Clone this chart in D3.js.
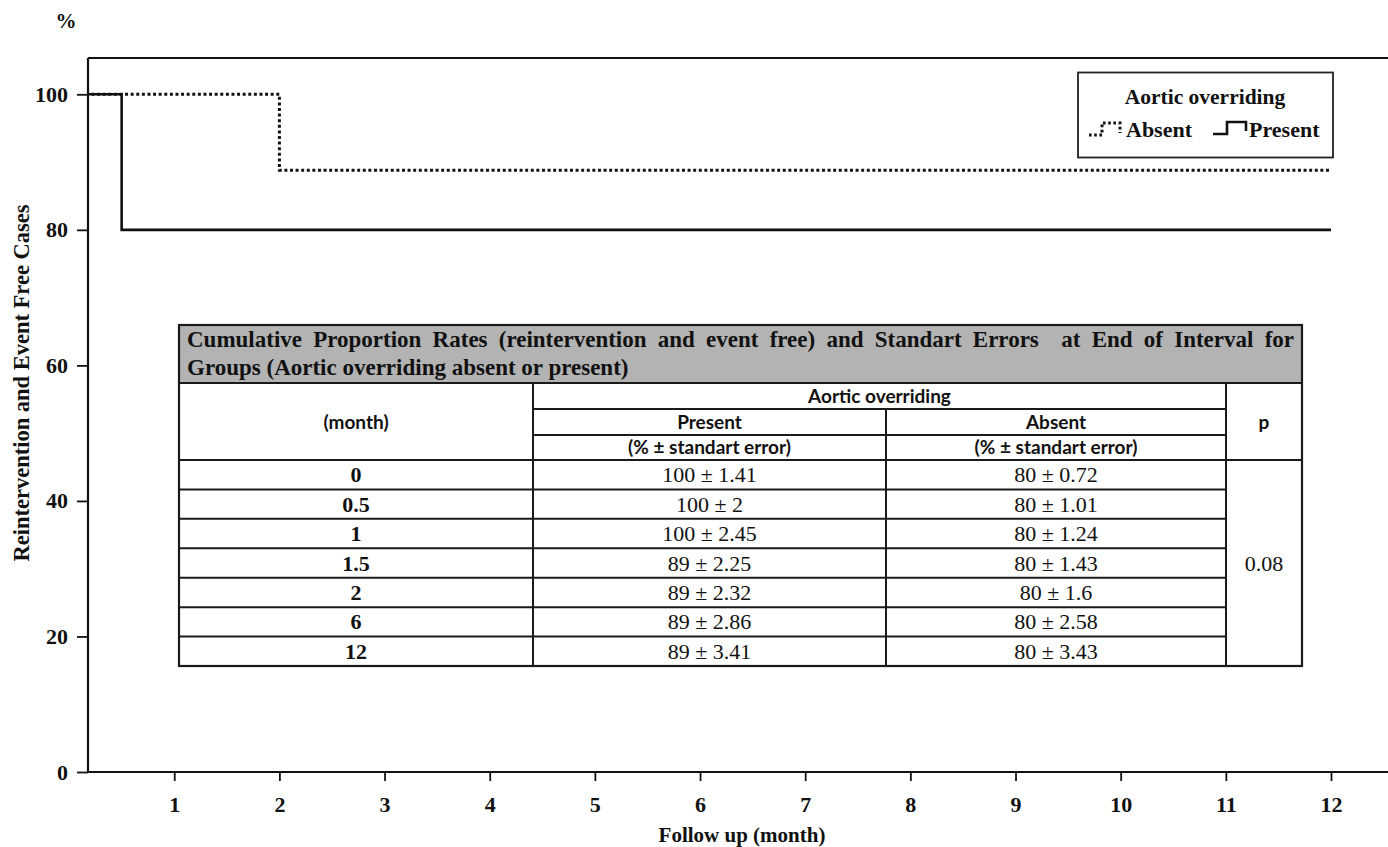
<!DOCTYPE html>
<html>
<head>
<meta charset="utf-8">
<script src="https://cdn.jsdelivr.net/npm/d3@7"></script>
<style>
  html, body { margin: 0; padding: 0; background: #fff; }
  svg { display: block; }
</style>
</head>
<body>
<svg id="chart" width="1388" height="847"></svg>
<script>
// ---------------- DATA ----------------
const xTicks = [1, 2, 3, 4, 5, 6, 7, 8, 9, 10, 11, 12];
const yTicks = [0, 20, 40, 60, 80, 100];
const absentTimes = [0, 2, 12];
const absentSurv = [100, 88.8, 88.8];
const presentTimes = [0, 0.5, 12];
const presentSurv = [100, 80, 80];

const tableTitle1 = "Cumulative Proportion Rates (reintervention and event free) and Standart Errors  at End of Interval for";
const tableTitle2 = "Groups (Aortic overriding absent or present)";
const tableMonths = ["0", "0.5", "1", "1.5", "2", "6", "12"];
const presentRate = [100, 100, 100, 89, 89, 89, 89];
const presentSE = ["1.41", "2", "2.45", "2.25", "2.32", "2.86", "3.41"];
const absentRate = [80, 80, 80, 80, 80, 80, 80];
const absentSE = ["0.72", "1.01", "1.24", "1.43", "1.6", "2.58", "3.43"];
const pValue = "0.08";

(function () {
// ---------------- LAYOUT ----------------
const svg = d3.select("#chart");
const serif = "'Liberation Serif', 'Times New Roman', serif";
const sans = "Lato, 'Open Sans', sans-serif";
const ink = "#111";

const pL = 88, pR = 1388, pT = 58, pB = 772;
const x = d3.scaleLinear().domain([0.18, 12]).range([88, 1331]);
const y = d3.scaleLinear().domain([0, 100]).range([772, 94.3]);

svg.append("defs").append("clipPath").attr("id", "plotclip")
  .append("rect").attr("x", pL).attr("y", pT).attr("width", pR - pL).attr("height", pB - pT);

// frame top line
svg.append("line").attr("x1", pL).attr("x2", pR).attr("y1", pT).attr("y2", pT)
  .attr("stroke", ink).attr("stroke-width", 2);

// x axis
const xAxis = svg.append("g").attr("transform", `translate(0,${pB})`)
  .call(d3.axisBottom(x).tickValues(xTicks).tickSize(9).tickPadding(15).tickFormat(d3.format("d")));
xAxis.select(".domain").remove();
xAxis.append("line").attr("x1", pL).attr("x2", pR).attr("y1", 0).attr("y2", 0)
  .attr("stroke", ink).attr("stroke-width", 2.2);
xAxis.selectAll(".tick line").attr("stroke", ink).attr("stroke-width", 1.8);
xAxis.selectAll(".tick text").attr("fill", ink).attr("font-family", serif)
  .attr("font-weight", "bold").attr("font-size", 22);

// y axis
const yAxis = svg.append("g").attr("transform", `translate(${pL},0)`)
  .call(d3.axisLeft(y).tickValues(yTicks).tickSize(11).tickPadding(9).tickFormat(d3.format("d")));
yAxis.select(".domain").remove();
yAxis.append("line").attr("x1", 0).attr("x2", 0).attr("y1", pT).attr("y2", pB)
  .attr("stroke", ink).attr("stroke-width", 2.2);
yAxis.selectAll(".tick line").attr("stroke", ink).attr("stroke-width", 1.8);
yAxis.selectAll(".tick text").attr("fill", ink).attr("font-family", serif)
  .attr("font-weight", "bold").attr("font-size", 22);

// axis titles
svg.append("text").attr("x", 66).attr("y", 28).attr("text-anchor", "middle")
  .attr("font-family", serif).attr("font-weight", "bold").attr("font-size", 21).attr("fill", ink).text("%");
svg.append("text").attr("transform", `translate(29,383) rotate(-90)`).attr("text-anchor", "middle")
  .attr("font-family", serif).attr("font-weight", "bold").attr("font-size", 22.5).attr("fill", ink)
  .text("Reintervention and Event Free Cases");
svg.append("text").attr("x", 742).attr("y", 842).attr("text-anchor", "middle")
  .attr("font-family", serif).attr("font-weight", "bold").attr("font-size", 21).attr("fill", ink)
  .text("Follow up (month)");

// curves
const line = d3.line().curve(d3.curveStepAfter).x(d => x(d[0])).y(d => y(d[1]));
const plot = svg.append("g").attr("clip-path", "url(#plotclip)");
plot.append("path").datum(d3.zip(absentTimes, absentSurv)).attr("d", line)
  .attr("fill", "none").attr("stroke", ink).attr("stroke-width", 3).attr("stroke-dasharray", "3,2.6");
plot.append("path").datum(d3.zip(presentTimes, presentSurv)).attr("d", line)
  .attr("fill", "none").attr("stroke", ink).attr("stroke-width", 2.6);

// legend
const lg = svg.append("g");
lg.append("rect").attr("x", 1078).attr("y", 72.5).attr("width", 255).attr("height", 85)
  .attr("fill", "#fff").attr("stroke", "#222").attr("stroke-width", 1.8);
lg.append("text").attr("x", 1205).attr("y", 104).attr("text-anchor", "middle")
  .attr("font-family", serif).attr("font-weight", "bold").attr("font-size", 21.5).attr("fill", ink)
  .text("Aortic overriding");
lg.append("path").attr("d", "M1089,135 H1102 V123 H1120 V133")
  .attr("fill", "none").attr("stroke", ink).attr("stroke-width", 3).attr("stroke-dasharray", "2.6,2.6");
lg.append("text").attr("x", 1126).attr("y", 137).attr("font-family", serif).attr("font-weight", "bold")
  .attr("font-size", 22).attr("fill", ink).text("Absent");
lg.append("path").attr("d", "M1213,134 H1227 V122 H1246 V131")
  .attr("fill", "none").attr("stroke", ink).attr("stroke-width", 2.6);
lg.append("text").attr("x", 1249).attr("y", 137).attr("font-family", serif).attr("font-weight", "bold")
  .attr("font-size", 22).attr("fill", ink).text("Present");

// ---------------- TABLE ----------------
const tb = svg.append("g");
const tx0 = 179, tx1 = 1302;
const colX = [179, 533, 886, 1226, 1302];
const hdrTop = 325, hdrBot = 383;
const dataTop = 460, dataBot = 666;
const dataRowY = d3.range(tableMonths.length + 1).map(i => dataTop + i * (dataBot - dataTop) / tableMonths.length);

tb.append("rect").attr("x", tx0).attr("y", hdrTop).attr("width", tx1 - tx0).attr("height", hdrBot - hdrTop)
  .attr("fill", "#b3b3b3");
tb.append("rect").attr("x", tx0).attr("y", hdrBot).attr("width", tx1 - tx0).attr("height", dataBot - hdrBot)
  .attr("fill", "#fff");

// title line 1 (justified by words)
const words = tableTitle1.split(" ");
const wEls = words.map(w => tb.append("text").attr("y", 347).attr("font-family", serif)
  .attr("font-weight", "bold").attr("font-size", 23).attr("fill", ink).text(w));
const widths = wEls.map(e => e.node().getComputedTextLength());
const totalW = d3.sum(widths);
const startX = 187, endX = 1294;
const gap = (endX - startX - totalW) / (words.length - 1);
let cx = startX;
wEls.forEach((e, i) => { e.attr("x", cx); cx += widths[i] + gap; });
tb.append("text").attr("x", startX).attr("y", 375).attr("font-family", serif).attr("font-weight", "bold")
  .attr("font-size", 23).attr("fill", ink).text(tableTitle2);

const stroke = (x1, y1, x2, y2, w) => tb.append("line").attr("x1", x1).attr("y1", y1).attr("x2", x2).attr("y2", y2)
  .attr("stroke", "#1a1a1a").attr("stroke-width", w || 2);

// outer border
tb.append("rect").attr("x", tx0).attr("y", hdrTop).attr("width", tx1 - tx0).attr("height", dataBot - hdrTop)
  .attr("fill", "none").attr("stroke", "#1a1a1a").attr("stroke-width", 2.2);
stroke(tx0, hdrBot, tx1, hdrBot, 2.2);
stroke(colX[1], 409, colX[3], 409);
stroke(colX[1], 435, colX[3], 435);
stroke(tx0, 460, tx1, 460);
stroke(colX[1], hdrBot, colX[1], dataBot);
stroke(colX[2], 409, colX[2], dataBot);
stroke(colX[3], hdrBot, colX[3], dataBot);
dataRowY.slice(1, -1).forEach(yy => stroke(tx0, yy, colX[3], yy));

const hdrText = (xx, yy, t) => tb.append("text").attr("x", xx).attr("y", yy).attr("text-anchor", "middle")
  .attr("font-family", sans).attr("font-weight", "bold").attr("font-size", 19).attr("fill", ink).text(t);
hdrText((colX[0] + colX[1]) / 2, 429, "(month)");
hdrText((colX[1] + colX[3]) / 2, 403, "Aortic overriding");
hdrText((colX[1] + colX[2]) / 2, 429, "Present");
hdrText((colX[2] + colX[3]) / 2, 429, "Absent");
hdrText((colX[1] + colX[2]) / 2, 454, "(% ± standart error)");
hdrText((colX[2] + colX[3]) / 2, 454, "(% ± standart error)");
hdrText((colX[3] + colX[4]) / 2, 429, "p");

tableMonths.forEach((m, i) => {
  const yy = (dataRowY[i] + dataRowY[i + 1]) / 2 + 7.5;
  tb.append("text").attr("x", (colX[0] + colX[1]) / 2).attr("y", yy).attr("text-anchor", "middle")
    .attr("font-family", serif).attr("font-weight", "bold").attr("font-size", 22).attr("fill", ink).text(m);
  tb.append("text").attr("x", (colX[1] + colX[2]) / 2).attr("y", yy).attr("text-anchor", "middle")
    .attr("font-family", serif).attr("font-size", 22).attr("fill", ink).text(`${presentRate[i]} ± ${presentSE[i]}`);
  tb.append("text").attr("x", (colX[2] + colX[3]) / 2).attr("y", yy).attr("text-anchor", "middle")
    .attr("font-family", serif).attr("font-size", 22).attr("fill", ink).text(`${absentRate[i]} ± ${absentSE[i]}`);
});
tb.append("text").attr("x", (colX[3] + colX[4]) / 2).attr("y", (dataTop + dataBot) / 2 + 7.5)
  .attr("text-anchor", "middle").attr("font-family", serif).attr("font-size", 22).attr("fill", ink).text(pValue);
})();
</script>
</body>
</html>
